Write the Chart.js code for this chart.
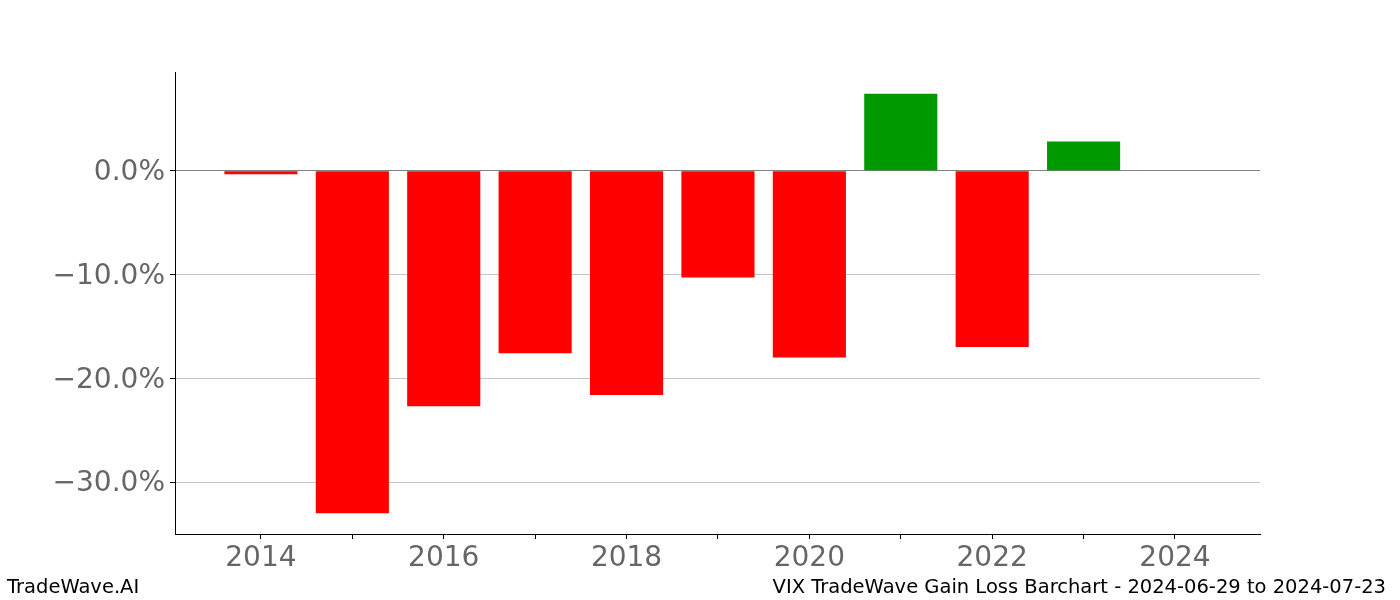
<!DOCTYPE html>
<html>
<head>
<meta charset="utf-8">
<script src="https://cdn.jsdelivr.net/npm/chart.js@4/dist/chart.umd.min.js"></script>
<style>
    body { margin: 0; background: #fff; }
    #wrap { position: relative; width: 1400px; height: 600px; }
    .foot { position: absolute; font-family: "DejaVu Sans", sans-serif; font-size: 19.5px; line-height: 20px; color: #000; white-space: nowrap; }
    #footLeft { left: 7px; top: 577px; }
    #footRight { right: 14px; top: 577px; }
</style>
</head>
<body>
<div id="wrap">
    <canvas id="gainLossChart" width="1400" height="600"></canvas>
    <div class="foot" id="footLeft">TradeWave.AI</div>
    <div class="foot" id="footRight">VIX TradeWave Gain Loss Barchart - 2024-06-29 to 2024-07-23</div>
</div>
<script>
// yearly gain/loss in percent
const years = [2014, 2015, 2016, 2017, 2018, 2019, 2020, 2021, 2022, 2023, 2024];
const gainLoss = [-0.35, -33.0, -22.7, -17.6, -21.6, -10.3, -18.0, 7.4, -17.0, 2.8, 0];

const xLimits = [2013.06, 2024.93];
const yLimits = [-35.0, 9.5];

const gainColor = '#009900';
const lossColor = '#ff0000';

function fmtPct(v) {
    const s = Math.abs(v).toFixed(1) + '%';
    return v < 0 ? '\u2212' + s : s;
}

const points = years.map((y, i) => ({ x: y, y: gainLoss[i] }));
const barColors = gainLoss.map(v => v >= 0 ? gainColor : lossColor);

const ctx = document.getElementById('gainLossChart').getContext('2d');

new Chart(ctx, {
    type: 'bar',
    data: {
        datasets: [{
            data: points,
            backgroundColor: barColors,
            borderWidth: 0,
            barPercentage: 0.8,
            categoryPercentage: 1.0
        }]
    },
    options: {
        responsive: false,
        animation: false,
        layout: { padding: { top: 72, right: 140, left: 0, bottom: 0 } },
        plugins: {
            legend: { display: false },
            tooltip: { enabled: false }
        },
        scales: {
            x: {
                type: 'linear',
                offset: false,
                min: xLimits[0],
                max: xLimits[1],
                afterFit: scale => { scale.height = 66; },
                border: { color: '#000', width: 1 },
                grid: { offset: false, drawOnChartArea: false, drawTicks: true, tickLength: 5, tickColor: '#000' },
                ticks: {
                    stepSize: 1,
                    includeBounds: false,
                    autoSkip: false,
                    maxRotation: 0,
                    padding: 3,
                    color: '#666666',
                    font: { family: 'DejaVu Sans', size: 28 },
                    callback: v => (v % 2 === 0 ? String(v) : '')
                }
            },
            y: {
                min: yLimits[0],
                max: yLimits[1],
                afterFit: scale => { scale.width = 175; },
                border: { color: '#000', width: 1 },
                grid: {
                    drawTicks: true,
                    tickLength: 5,
                    tickColor: '#000',
                    color: c => (c.tick && c.tick.value === 0 ? '#808080' : '#c4c4c4'),
                    lineWidth: 1
                },
                ticks: {
                    stepSize: 10,
                    includeBounds: false,
                    padding: 5,
                    labelOffset: 2,
                    color: '#666666',
                    font: { family: 'DejaVu Sans', size: 28 },
                    callback: v => fmtPct(v)
                }
            }
        }
    }
});
</script>
</body>
</html>
